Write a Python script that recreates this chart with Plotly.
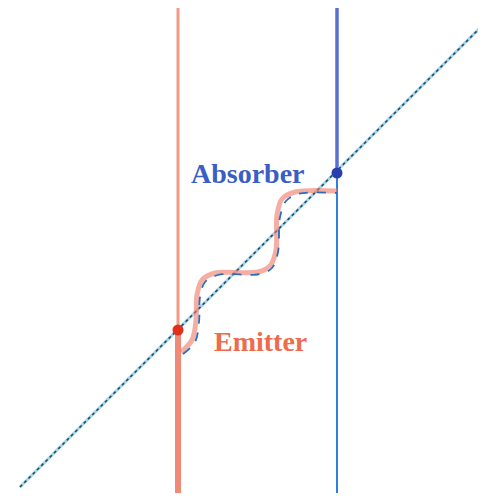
import plotly.graph_objects as go

# world-line positions (pixel-like diagram coordinates, y grows downward)
emitter_x = 178
absorber_x = 337
line_top = 5
line_bottom = 493
emit_event = (178, 330)
absorb_event = (337, 173)

# light ray (diagonal)
ray_x = [20, 484]
ray_y = [487, 24]

# wavy transfer path
wave_x = [181, 192, 196, 197, 202, 215, 258, 270, 276, 277, 282, 295, 337]
wave_y = [352, 340, 320, 295, 280, 273, 272, 266, 250, 215, 199, 192, 191]
wave2_x = [183, 195, 199, 200, 205, 218, 260, 272, 278, 280, 286, 298, 337]
wave2_y = [354, 342, 322, 297, 282, 275, 274, 268, 252, 217, 201, 194, 193]

fig = go.Figure()

# emitter world line
fig.add_trace(go.Scatter(x=[emitter_x, emitter_x], y=[line_top, emit_event[1]],
                         mode="lines", line=dict(color="#f29a86", width=3)))
fig.add_trace(go.Scatter(x=[emitter_x, emitter_x], y=[emit_event[1], line_bottom],
                         mode="lines", line=dict(color="#f08a76", width=6)))
# absorber world line
fig.add_trace(go.Scatter(x=[absorber_x, absorber_x], y=[line_top, absorb_event[1]],
                         mode="lines", line=dict(color="#5a6fd0", width=3.5)))
fig.add_trace(go.Scatter(x=[absorber_x, absorber_x], y=[absorb_event[1], line_bottom],
                         mode="lines", line=dict(color="#2f80dc", width=2)))

# light ray
fig.add_trace(go.Scatter(x=ray_x, y=ray_y, mode="lines",
                         line=dict(color="#a8d4ea", width=3)))
fig.add_trace(go.Scatter(x=ray_x, y=ray_y, mode="lines",
                         line=dict(color="#1f4f66", width=1.6, dash="dot")))

# wavy path
fig.add_trace(go.Scatter(x=wave_x, y=wave_y, mode="lines",
                         line=dict(color="rgba(240,120,100,0.6)", width=5, shape="spline")))
fig.add_trace(go.Scatter(x=wave2_x, y=wave2_y, mode="lines",
                         line=dict(color="#2a6cc4", width=1.8, dash="dash", shape="spline")))

# events
fig.add_trace(go.Scatter(x=[emit_event[0]], y=[emit_event[1]], mode="markers",
                         marker=dict(color="#e2301c", size=11)))
fig.add_trace(go.Scatter(x=[absorb_event[0]], y=[absorb_event[1]], mode="markers",
                         marker=dict(color="#2a3eb0", size=11)))

fig.add_annotation(x=248, y=173, text="<b>Absorber</b>", showarrow=False,
                   font=dict(family="Liberation Serif", size=28, color="#3a5ec4"))
fig.add_annotation(x=260, y=341, text="<b>Emitter</b>", showarrow=False,
                   font=dict(family="Liberation Serif", size=28, color="#f06a4c"))

# the page body adds an 8px offset; shift the visible range to compensate
off = 8
fig.update_layout(
    width=486, height=500,
    margin=dict(l=0, r=0, t=0, b=0),
    paper_bgcolor="white", plot_bgcolor="white",
    showlegend=False,
    xaxis=dict(range=[off, 486 + off], visible=False, fixedrange=True),
    yaxis=dict(range=[500 + off, off], visible=False, fixedrange=True),
)

fig.write_html("out.html")
